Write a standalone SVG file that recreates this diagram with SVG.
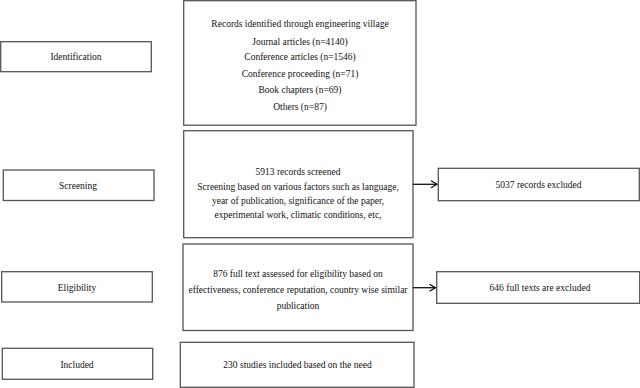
<svg xmlns="http://www.w3.org/2000/svg" width="640" height="388" viewBox="0 0 640 388">
<style>
.b{fill:#fff;stroke:#555;stroke-width:1.3}
.t{font-family:"Liberation Serif","Times New Roman",serif;font-size:9.5px;fill:#111;text-anchor:middle}
.c{stroke:#111;stroke-width:1.3;fill:none}
</style>
<defs>
<marker id="ah" markerWidth="10" markerHeight="10" refX="7" refY="4" orient="auto" markerUnits="userSpaceOnUse">
<polyline points="1,0.5 7,4 1,7.5" fill="none" stroke="#111" stroke-width="1.3"/>
</marker>
</defs>
<rect width="640" height="388" fill="#fff"/>
<g id="identification">
<rect class="b" x="0.7" y="41.7" width="150.6" height="30"/>
<text class="t" x="76" y="60">Identification</text>
</g>
<g id="records-identified">
<rect class="b" x="183.7" y="0.7" width="232.3" height="124.5"/>
<text class="t" x="300" y="26.5">Records identified through engineering village</text>
<text class="t" x="300" y="44.5">Journal articles (n=4140)</text>
<text class="t" x="300" y="60">Conference articles (n=1546)</text>
<text class="t" x="300" y="76.5">Conference proceeding (n=71)</text>
<text class="t" x="300" y="93">Book chapters (n=69)</text>
<text class="t" x="300" y="109.5">Others (n=87)</text>
</g>
<g id="screening">
<rect class="b" x="3.3" y="170" width="150.7" height="30.5"/>
<text class="t" x="78" y="188.5">Screening</text>
</g>
<g id="records-screened">
<rect class="b" x="183.7" y="130.7" width="229.3" height="107"/>
<text class="t" x="298" y="174.5">5913 records screened</text>
<text class="t" x="298" y="189.5">Screening based on various factors such as language,</text>
<text class="t" x="298" y="204">year of publication, significance of the paper,</text>
<text class="t" x="298" y="218">experimental work, climatic conditions, etc,</text>
</g>
<g id="records-excluded">
<rect class="b" x="438.3" y="168.3" width="201" height="32.4"/>
<text class="t" x="538.5" y="187.5">5037 records excluded</text>
</g>
<g id="eligibility">
<rect class="b" x="1.7" y="271.7" width="150.6" height="30.3"/>
<text class="t" x="77" y="290.5">Eligibility</text>
</g>
<g id="full-text-assessed">
<rect class="b" x="183" y="244" width="230" height="86.5"/>
<text class="t" x="298" y="276.5">876 full text assessed for eligibility based on</text>
<text class="t" x="298" y="293">effectiveness, conference reputation, country wise similar</text>
<text class="t" x="298" y="309">publication</text>
</g>
<g id="full-texts-excluded">
<rect class="b" x="436.7" y="271.7" width="203" height="31.6"/>
<text class="t" x="540" y="290.5">646 full texts are excluded</text>
</g>
<g id="included">
<rect class="b" x="2.3" y="348.3" width="150.4" height="31"/>
<text class="t" x="77" y="367.5">Included</text>
</g>
<g id="studies-included">
<rect class="b" x="180.3" y="342.3" width="233.7" height="45"/>
<text class="t" x="297.5" y="368">230 studies included based on the need</text>
</g>
<g id="connectors">
<line class="c" x1="413" y1="184.3" x2="437" y2="184.3" marker-end="url(#ah)"/>
<line class="c" x1="413" y1="287.7" x2="435.5" y2="287.7" marker-end="url(#ah)"/>
</g>
</svg>
